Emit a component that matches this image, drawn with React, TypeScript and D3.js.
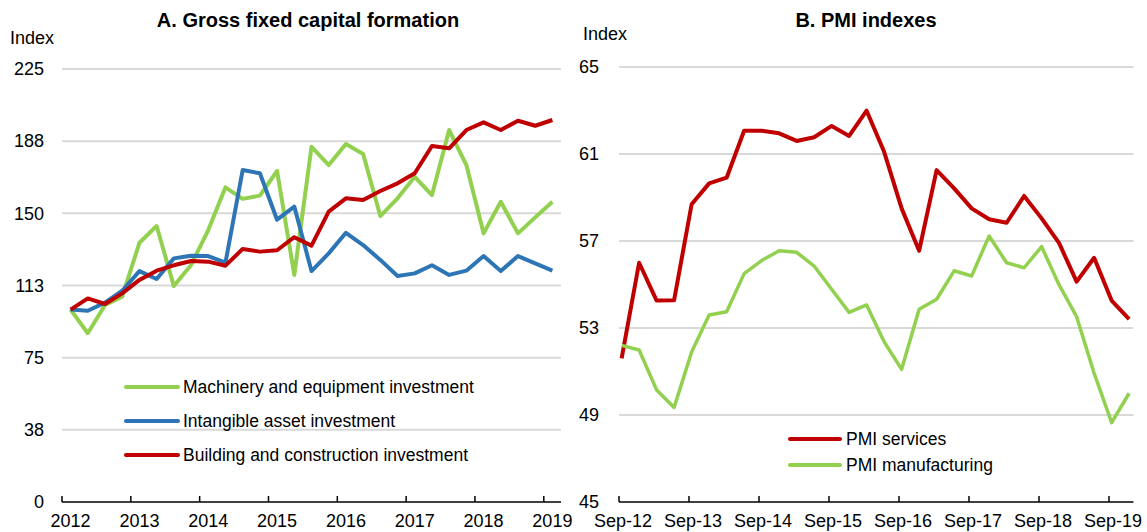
import React from 'react';
import * as d3 from 'd3';

// Panel A: quarterly index, 2012Q1 = 100
const gfcfYears = ['2012', '2013', '2014', '2015', '2016', '2017', '2018', '2019'];
const machinery = [100, 87.7, 102.4, 106.7, 134.7, 143.4, 112.2, 123.2, 141.3, 163.5, 157.5, 159.2, 172, 118.0, 184.6, 175.1, 186.0, 180.8, 148.6, 157.8, 169.0, 159.5, 193.3, 175.1, 139.6, 156.0, 139.6, 147.9, 156.0];
const intangible = [100, 99.4, 103.6, 109.8, 120.0, 115.9, 126.6, 128.0, 127.8, 124.4, 172.5, 170.8, 146.7, 153.5, 120.0, 129.2, 139.9, 133.5, 125.8, 117.4, 118.8, 123.0, 118.0, 120.2, 127.8, 120.0, 127.8, 124.0, 120.2];
const building = [100, 105.8, 102.9, 108.4, 115.4, 120.2, 123.0, 125.2, 124.9, 122.8, 131.5, 130.1, 130.8, 137.6, 133.2, 150.9, 157.8, 156.9, 161.6, 165.6, 170.8, 185.0, 183.8, 193.3, 197.3, 193.3, 198.1, 195.5, 198.5];
const gfcfTicks = [0, 37.5, 75, 112.5, 150, 187.5, 225];
const gfcfTickLabels = ['0', '38', '75', '113', '150', '188', '225'];

// Panel B: quarterly PMI, Sep-12 .. Dec-19
const pmiLabels = ['Sep-12', 'Sep-13', 'Sep-14', 'Sep-15', 'Sep-16', 'Sep-17', 'Sep-18', 'Sep-19'];
const pmiServices = [51.6, 56.0, 54.26, 54.28, 58.69, 59.65, 59.91, 62.07, 62.07, 61.95, 61.6, 61.77, 62.29, 61.83, 62.99, 61.1, 58.5, 56.55, 60.26, 59.42, 58.5, 58.0, 57.84, 59.07, 58.04, 56.9, 55.13, 56.23, 54.26, 53.41];
const pmiManufacturing = [52.2, 51.99, 50.15, 49.35, 51.9, 53.6, 53.75, 55.5, 56.1, 56.55, 56.48, 55.85, 54.78, 53.72, 54.06, 52.37, 51.1, 53.86, 54.32, 55.63, 55.39, 57.23, 56.0, 55.77, 56.74, 54.98, 53.52, 50.92, 48.65, 50.0];
const pmiTicks = [45, 49, 53, 57, 61, 65];

const RED = '#C00000';
const GREEN = '#92D050';
const BLUE = '#2E75B6';
const GRID = '#D9D9D9';
const FONT = '"Liberation Sans Narrow", "Arial Narrow", "Liberation Sans", Arial, sans-serif';

function PanelA() {
  const left = 62, right = 561, top = 69, bottom = 502;
  const n = machinery.length;
  const x = d3.scaleLinear().domain([0, n]).range([left, right]);
  const y = d3.scaleLinear().domain([0, 225]).range([bottom, top]);
  const line = d3.line<number>().x((d, i) => x(i + 0.5)).y(d => y(d));

  const series = [
    { name: 'Machinery and equipment investment', values: machinery, color: GREEN },
    { name: 'Intangible asset investment', values: intangible, color: BLUE },
    { name: 'Building and construction investment', values: building, color: RED },
  ];

  return (
    <g>
      <text x={308} y={27} textAnchor="middle" fontFamily={FONT} fontWeight="bold" fontSize={20}>A. Gross fixed capital formation</text>
      <text x={10} y={44} fontFamily={FONT} fontSize={18}>Index</text>
      {gfcfTicks.map((t, i) => (
        <g key={i}>
          {t > 0 && <line x1={left} x2={right} y1={y(t)} y2={y(t)} stroke={GRID} strokeWidth={2} />}
          <text x={44} y={y(t)} dy="0.35em" textAnchor="end" fontFamily={FONT} fontSize={18}>{gfcfTickLabels[i]}</text>
        </g>
      ))}
      <line x1={left} x2={right} y1={bottom} y2={bottom} stroke="#000" strokeWidth={1.5} />
      {gfcfYears.map((yr, k) => (
        <g key={yr}>
          <line x1={x(k * 4)} x2={x(k * 4)} y1={bottom} y2={bottom - 6} stroke="#000" strokeWidth={1.5} />
          <text x={x(k * 4 + 0.5)} y={527} textAnchor="middle" fontFamily={FONT} fontSize={18}>{yr}</text>
        </g>
      ))}
      {series.map(s => (
        <path key={s.name} d={line(s.values) || ''} fill="none" stroke={s.color} strokeWidth={4} strokeLinejoin="round" />
      ))}
      {series.map((s, i) => (
        <g key={s.name} transform={`translate(0, ${387 + i * 34})`}>
          <line x1={126} x2={178} y1={0} y2={0} stroke={s.color} strokeWidth={4} strokeLinecap="round" />
          <text x={183} y={0} dy="0.35em" fontFamily={FONT} fontSize={17.5}>{s.name}</text>
        </g>
      ))}
    </g>
  );
}

function PanelB() {
  const left = 619, top = 67, bottom = 502;
  const q = 17.5;
  const x = (i: number) => left + q * i;
  const y = d3.scaleLinear().domain([45, 65]).range([bottom, top]);
  const right = x(29.4);
  const line = d3.line<number>().x((d, i) => x(i + 0.15)).y(d => y(d));

  const series = [
    { name: 'PMI services', values: pmiServices, color: RED, w: 4 },
    { name: 'PMI manufacturing', values: pmiManufacturing, color: GREEN, w: 3.5 },
  ];

  return (
    <g>
      <text x={866} y={27} textAnchor="middle" fontFamily={FONT} fontWeight="bold" fontSize={20}>B. PMI indexes</text>
      <text x={583} y={40} fontFamily={FONT} fontSize={18}>Index</text>
      {pmiTicks.map(t => (
        <g key={t}>
          {t > 45 && <line x1={left} x2={right} y1={y(t)} y2={y(t)} stroke={GRID} strokeWidth={2} />}
          <text x={599} y={y(t)} dy="0.35em" textAnchor="end" fontFamily={FONT} fontSize={18}>{t}</text>
        </g>
      ))}
      <line x1={left} x2={right} y1={bottom} y2={bottom} stroke="#000" strokeWidth={1.5} />
      {pmiLabels.map((lab, k) => (
        <g key={lab}>
          <line x1={x(k * 4)} x2={x(k * 4)} y1={bottom} y2={bottom - 6} stroke="#000" strokeWidth={1.5} />
          <text x={x(k * 4) + 4} y={527} textAnchor="middle" fontFamily={FONT} fontSize={18}>{lab}</text>
        </g>
      ))}
      {series.map(s => (
        <path key={s.name} d={line(s.values) || ''} fill="none" stroke={s.color} strokeWidth={s.w} strokeLinejoin="round" />
      ))}
      {series.map((s, i) => (
        <g key={s.name} transform={`translate(0, ${439 + i * 26})`}>
          <line x1={790} x2={840} y1={0} y2={0} stroke={s.color} strokeWidth={4} strokeLinecap="round" />
          <text x={846} y={0} dy="0.35em" fontFamily={FONT} fontSize={17.5}>{s.name}</text>
        </g>
      ))}
    </g>
  );
}

export default function App() {
  return (
    <svg width={1147} height={532} style={{ position: 'absolute', left: 0, top: 0, background: '#fff' }}>
      <PanelA />
      <PanelB />
    </svg>
  );
}
